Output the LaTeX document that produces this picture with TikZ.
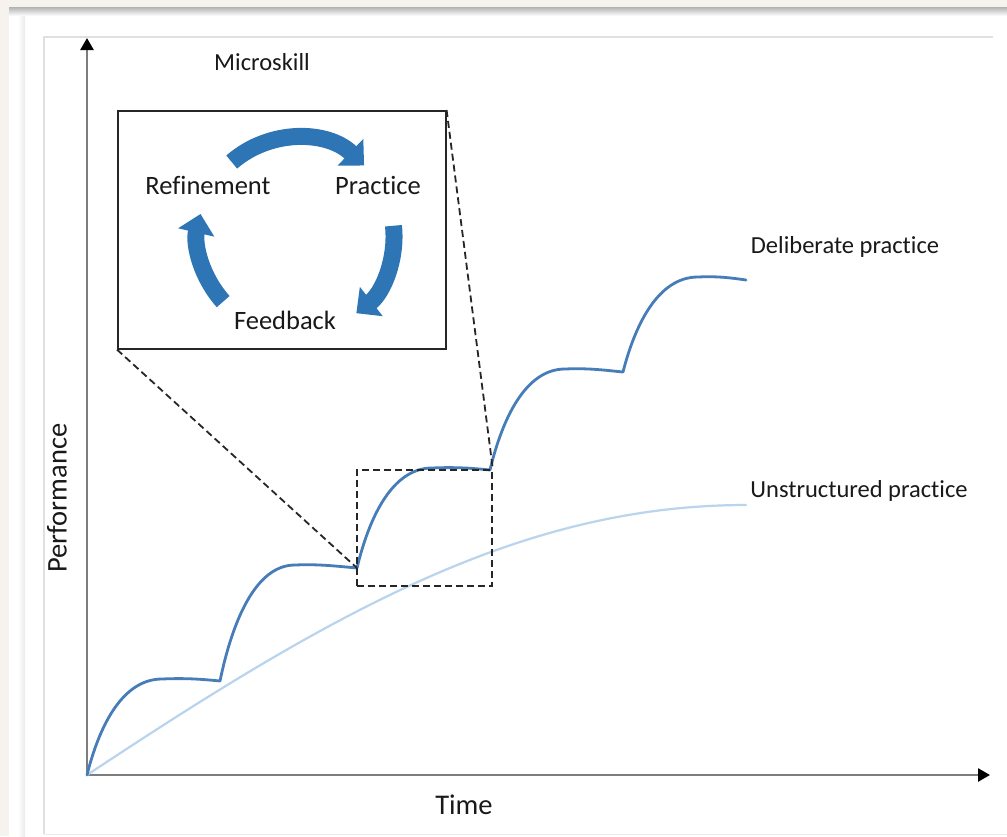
\documentclass[tikz,border=0pt]{standalone}
\usepackage{fontspec}
\setmainfont{Carlito}[Ligatures={NoCommon,NoRare}]
\usetikzlibrary{arrows.meta}
\definecolor{beige}{RGB}{246,243,238}
\definecolor{cyc}{RGB}{46,117,182}
\definecolor{dpblue}{RGB}{70,125,185}
\definecolor{upblue}{RGB}{185,212,236}
\definecolor{txt}{RGB}{25,25,25}
\definecolor{axisgray}{RGB}{125,125,125}
\begin{document}
\begin{tikzpicture}[x=1pt,y=-1pt,
  lbl/.style={text=txt,inner sep=0pt,font=\fontsize{24.5}{28}\selectfont},
  cyclbl/.style={text=txt,inner sep=0pt,font=\fontsize{26.5}{30}\selectfont},
  axlbl/.style={text=txt,inner sep=0pt,font=\fontsize{28.5}{32}\selectfont},
  axisline/.style={axisgray,line width=2.6pt,-{Triangle[width=13pt,length=12pt,color=black]}},
  cycarrow/.style={cyc,line width=17pt,-{Triangle[width=36pt,length=19pt]}},
  dashline/.style={black!85,line width=1.8pt,dash pattern=on 7pt off 4pt},
  dpcurve/.style={dpblue,line width=2.8pt,line cap=round,line join=round},
  upcurve/.style={upblue,line width=2.2pt,line cap=round}]
\useasboundingbox (0,0) rectangle (1007,836);
\fill[white] (0,0) rectangle (1007,836);
% screenshot frame
\fill[beige] (0,0) rectangle (1007,7);
\shade[top color=black!30,bottom color=white] (0,7) rectangle (1007,16);
\fill[beige] (0,7) rectangle (9,836);
\shade[left color=white,right color=black!8,middle color=black!4] (18,16) rectangle (25,836);
\draw[black!12,line width=1.5pt] (44,834) -- (44,37) -- (993,37);
\draw[black!8,line width=1pt] (44,834) -- (1007,834);
% axes
\coordinate (O) at (87,775);
\coordinate (ytip) at (87,38);
\coordinate (xtip) at (990,775);
\draw[axisline] (O) -- (ytip);
\draw[axisline] (O) -- (xtip);
% unstructured practice
\draw[upcurve] (O) .. controls (330,614) and (520,505) .. (746,505);
% deliberate practice
\coordinate (k1) at (220,681);
\coordinate (k2) at (357,568);
\coordinate (k3) at (490,470);
\coordinate (k4) at (623,372);
\coordinate (k5) at (746,280);
\draw[dpcurve] (O) .. controls (99,727) and (122,679) .. (162,679)
  .. controls (185,678) and (200,679) .. (k1)
  .. controls (232,623) and (255,565) .. (295,565)
  .. controls (318,564) and (335,566) .. (k2)
  .. controls (369,518) and (392,468) .. (432,468)
  .. controls (455,467) and (470,468) .. (k3)
  .. controls (502,420) and (525,369) .. (565,369)
  .. controls (588,368) and (603,370) .. (k4)
  .. controls (635,325) and (658,277) .. (698,277)
  .. controls (718,276) and (732,278) .. (k5);
% zoom box and inset
\node[draw=black!85,dashline,minimum width=135pt,minimum height=116pt,inner sep=0pt,anchor=north west] (zoom) at (356,469) {};
\node[draw=black!85,line width=1.6pt,fill=white,minimum width=328pt,minimum height=238pt,inner sep=0pt,anchor=north west] (inset) at (117,110) {};
\draw[dashline] (inset.south west) -- (k2);
\draw[dashline] (inset.north east) -- (zoom.north east);
% cycle
\coordinate (cc) at (296,236);
\draw[cycarrow] ([shift={(cc)}]229:98) arc[start angle=229,end angle=314,radius=98];
\draw[cycarrow] ([shift={(cc)}]-6:98) arc[start angle=-6,end angle=52,radius=98];
\draw[cycarrow] ([shift={(cc)}]138:98) arc[start angle=138,end angle=193,radius=98];
\node[cyclbl] (ref) at (208,185) {Refinement};
\node[cyclbl] (prac) at (378,185) {Practice};
\node[cyclbl] (feed) at (285,320) {Feedback};
% labels
\node[lbl] (micro) at (262,62) {Microskill};
\node[lbl] (dp) at (845,247) {Deliberate practice};
\node[lbl] (up) at (859,491) {Unstructured practice};
\node[axlbl,rotate=90] (perf) at (57,498) {Performance};
\node[axlbl] (time) at (464,805) {Time};
\end{tikzpicture}
\end{document}
